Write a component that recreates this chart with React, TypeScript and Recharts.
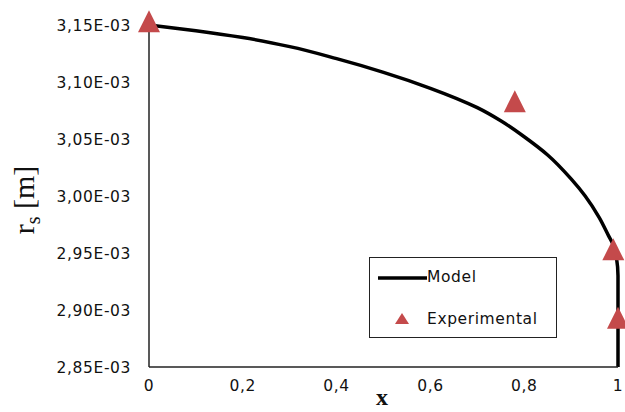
import React from 'react';
import { ComposedChart, Line, Scatter, XAxis, YAxis, Legend } from 'recharts';

// shell radius vs. position, model curve and measured points
const modelX = [0, 0.1, 0.2, 0.3, 0.4, 0.5, 0.6, 0.7, 0.75, 0.8, 0.85, 0.9, 0.93, 0.96, 0.98, 0.99, 0.997, 1, 1];
const modelR = [
  3.15e-3, 3.145e-3, 3.139e-3, 3.131e-3, 3.1205e-3, 3.1085e-3, 3.0945e-3, 3.0775e-3, 3.066e-3,
  3.052e-3, 3.036e-3, 3.015e-3, 3.0e-3, 2.981e-3, 2.965e-3, 2.957e-3, 2.945e-3, 2.93e-3, 2.85e-3,
];

const expX = [0, 0.78, 0.99, 1];
const expR = [3.15e-3, 3.08e-3, 2.95e-3, 2.89e-3];

const xTicks = [0, 0.2, 0.4, 0.6, 0.8, 1];
const yTicks = [2.85e-3, 2.9e-3, 2.95e-3, 3.0e-3, 3.05e-3, 3.1e-3, 3.15e-3];

const modelData = modelX.map((x, i) => ({ x, r: modelR[i] }));
const expData = expX.map((x, i) => ({ x, r: expR[i] }));

const RED = '#c44a4b';
const TICK_FONT = { fontFamily: 'DejaVu Sans', fontSize: 15.5, fill: '#111', letterSpacing: 0.6 };

const fmtX = (v: number) => String(v).replace('.', ',');
const fmtY = (v: number) => {
  const [m, e] = v.toExponential(2).split('e');
  const n = Number(e);
  const exp = (n < 0 ? '-' : '+') + String(Math.abs(n)).padStart(2, '0');
  return `${m.replace('.', ',')}E${exp}`;
};

const Triangle = (props: any) => {
  const { cx, cy } = props;
  if (cx == null || cy == null) return null;
  const h = 22;
  const w = 22;
  return (
    <polygon
      points={`${cx},${cy - (2 * h) / 3} ${cx - w / 2},${cy + h / 3} ${cx + w / 2},${cy + h / 3}`}
      fill={RED}
    />
  );
};

const LegendBox = () => (
  <div
    style={{
      position: 'relative',
      width: 188,
      height: 81,
      boxSizing: 'border-box',
      border: '1.5px solid #222',
      background: '#fff',
      fontFamily: 'DejaVu Sans',
      fontSize: 15.5,
      letterSpacing: 0.6,
      color: '#111',
    }}
  >
    <svg width={188} height={81} style={{ position: 'absolute', left: -1.5, top: -1.5 }}>
      <line x1={9} y1={21} x2={58} y2={21} stroke="#000" strokeWidth={3.5} />
      <polygon points="33,56 26,67 40,67" fill={RED} />
    </svg>
    <span style={{ position: 'absolute', left: 57, top: 10 }}>Model</span>
    <span style={{ position: 'absolute', left: 57, top: 52 }}>Experimental</span>
  </div>
);

export default function App() {
  return (
    <div style={{ position: 'absolute', left: 0, top: 0, width: 625, height: 412, background: '#fff' }}>
      <ComposedChart width={625} height={412} margin={{ top: 25, right: 7, bottom: 0, left: 0 }}>
        <XAxis
          type="number"
          dataKey="x"
          domain={[0, 1]}
          ticks={xTicks}
          tickFormatter={fmtX}
          tick={TICK_FONT}
          tickLine={false}
          tickSize={0}
          tickMargin={13}
          height={45}
          axisLine={{ stroke: '#222', strokeWidth: 1.5 }}
          label={{
            content: () => (
              <text
                x={382}
                y={405}
                textAnchor="middle"
                fontFamily="Liberation Serif"
                fontWeight="bold"
                fontSize={24}
                fill="#111"
              >
                x
              </text>
            ),
          }}
        />
        <YAxis
          type="number"
          dataKey="r"
          domain={[2.85e-3, 3.15e-3]}
          ticks={yTicks}
          tickFormatter={fmtY}
          tick={TICK_FONT}
          tickLine={false}
          tickSize={0}
          tickMargin={18}
          width={149}
          axisLine={{ stroke: '#222', strokeWidth: 1.5 }}
          label={{
            content: () => (
              <text
                transform="translate(34,200) rotate(-90)"
                textAnchor="middle"
                fontFamily="Liberation Serif"
                fontSize={30}
                fill="#111"
              >
                r<tspan fontSize={20} dy={6}>s</tspan>
                <tspan dy={-6}> [m]</tspan>
              </text>
            ),
          }}
        />
        <Line
          data={modelData}
          dataKey="r"
          type="monotoneY"
          stroke="#000"
          strokeWidth={3.5}
          dot={false}
          isAnimationActive={false}
        />
        <Scatter data={expData} dataKey="r" shape={<Triangle />} isAnimationActive={false} />
        <Legend
          layout="vertical"
          align="center"
          verticalAlign="middle"
          wrapperStyle={{ left: 369, top: 257, width: 188, height: 81 }}
          content={() => <LegendBox />}
        />
      </ComposedChart>
    </div>
  );
}
